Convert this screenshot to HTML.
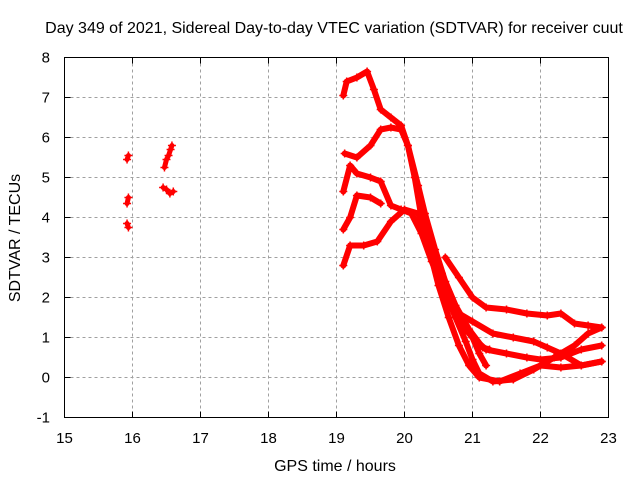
<!DOCTYPE html>
<html><head><meta charset="utf-8"><style>
body{margin:0;background:#fff}
svg{display:block;font-family:"Liberation Sans",sans-serif}
</style></head><body>
<svg id="chart" width="640" height="480">
<rect width="640" height="480" fill="#fff"/>
<text x="334" y="33" font-size="16" text-anchor="middle">Day 349 of 2021, Sidereal Day-to-day VTEC variation (SDTVAR) for receiver cuut</text>
<g id="grid"></g><g id="ticks"></g><g id="series"></g>
<rect x="64.5" y="57.5" width="544" height="360" fill="none" stroke="#000"/>
<text x="335" y="471" font-size="16" text-anchor="middle">GPS time / hours</text>
<text transform="translate(20,238) rotate(-90)" font-size="16" text-anchor="middle">SDTVAR / TECUs</text>
</svg>
<script>
const xTicks=[15,16,17,18,19,20,21,22,23];
const yTicks=[-1,0,1,2,3,4,5,6,7,8];
const clusterA1=[[15.92,5.45],[15.94,5.55]];
const clusterA2=[[15.92,4.35],[15.94,4.5]];
const clusterA3=[[15.92,3.85],[15.94,3.75]];
const clusterB1=[[16.47,5.25],[16.5,5.45],[16.53,5.55],[16.56,5.7],[16.58,5.8]];
const clusterB2=[[16.45,4.75],[16.5,4.7],[16.55,4.6],[16.6,4.65]];
const seriesA=[[19.1,7.05],[19.15,7.4],[19.3,7.5],[19.45,7.65],[19.55,7.2],[19.65,6.7],[19.8,6.5],[19.95,6.3],[20.05,5.8],[20.15,5.0],[20.25,4.0],[20.35,3.4],[20.5,2.6],[20.6,2.1],[20.75,1.5],[20.9,0.9],[21.0,0.45],[21.1,0.1],[21.3,-0.1],[21.6,-0.05],[21.9,0.2],[22.2,0.5],[22.5,0.8],[22.7,1.1],[22.9,1.25]];
const seriesB=[[19.12,5.6],[19.3,5.5],[19.5,5.8],[19.65,6.2],[19.8,6.25],[19.95,6.2],[20.05,5.8],[20.2,4.8],[20.3,4.1],[20.45,3.2],[20.6,2.4],[20.8,1.6],[21.0,1.0],[21.1,0.6],[21.2,0.3]];
const seriesC=[[19.1,4.65],[19.2,5.3],[19.3,5.1],[19.5,5.0],[19.65,4.9],[19.8,4.3],[19.95,4.2],[20.1,4.1],[20.25,3.6],[20.4,2.9],[20.55,2.3],[20.7,1.8],[20.9,1.2],[21.0,1.0],[21.2,0.7],[21.5,0.6],[21.8,0.5],[22.0,0.45],[22.3,0.5],[22.6,0.7],[22.9,0.8]];
const seriesD=[[19.1,3.7],[19.2,4.0],[19.3,4.55],[19.5,4.5],[19.65,4.35]];
const seriesE=[[19.1,2.8],[19.2,3.3],[19.4,3.3],[19.6,3.4],[19.8,3.9],[20.0,4.2],[20.2,4.1],[20.35,3.4],[20.5,2.6],[20.6,2.1],[20.8,1.6],[21.0,1.4],[21.3,1.1],[21.6,1.0],[21.9,0.9],[22.1,0.75],[22.3,0.6],[22.6,0.3],[22.9,0.4]];
const seriesF=[[20.6,3.0],[20.8,2.5],[21.0,2.0],[21.2,1.75],[21.5,1.7],[21.8,1.6],[22.1,1.55],[22.3,1.6],[22.5,1.35],[22.7,1.3],[22.9,1.25]];
const seriesG=[[20.35,3.3],[20.5,2.3],[20.65,1.5],[20.8,0.8],[20.95,0.3],[21.1,0.0],[21.4,-0.1],[21.7,0.1],[22.0,0.3],[22.3,0.25],[22.6,0.3],[22.9,0.4]];
const seriesH=[[20.55,2.6],[20.75,1.8],[20.95,1.2],[21.15,0.75],[21.25,0.7]];

const NS="http://www.w3.org/2000/svg";
const X=h=>64.5+(h-15)*68, Y=v=>417.5-(v+1)*40;
const grid=document.getElementById('grid'),ticks=document.getElementById('ticks'),ser=document.getElementById('series');
function mk(t,a,p){const e=document.createElementNS(NS,t);for(const k in a)e.setAttribute(k,a[k]);p.appendChild(e);return e;}
xTicks.forEach(t=>{const x=X(t);
 if(t>15&&t<23){const g=mk('line',{x1:x,x2:x,y1:57.5,y2:417.5,stroke:'#a0a0a0','stroke-dasharray':'3,3'},grid);
 
 }
 mk('line',{x1:x,x2:x,y1:417.5,y2:411.5,stroke:'#000'},ticks);mk('line',{x1:x,x2:x,y1:57.5,y2:63.5,stroke:'#000'},ticks);
 const l=mk('text',{x:x,y:443,'font-size':15,'text-anchor':'middle'},ticks);l.textContent=t;
 
 });
yTicks.forEach(t=>{const y=Y(t);
 if(t>-1&&t<8){const g=mk('line',{x1:64.5,x2:608.5,y1:y,y2:y,stroke:'#a0a0a0','stroke-dasharray':'3,3'},grid);
 
 }
 mk('line',{x1:64.5,x2:70.5,y1:y,y2:y,stroke:'#000'},ticks);mk('line',{x1:608.5,x2:602.5,y1:y,y2:y,stroke:'#000'},ticks);
 const l=mk('text',{x:50,y:y+5,'font-size':15,'text-anchor':'end'},ticks);l.textContent=t;
 
 });
function drawSeries(pts,name,w){
 const g=mk('g',{},ser);
 
 
 mk('polyline',{points:pts.map(p=>X(p[0])+','+Y(p[1])).join(' '),fill:'none',stroke:'#ff0000','stroke-width':w,'stroke-linejoin':'round','stroke-linecap':'round'},g);
 pts.forEach(p=>{const x=X(p[0]),y=Y(p[1]);
  mk('path',{d:`M${x-4},${y}H${x+4}M${x},${y-4}V${y+4}`,stroke:'#ff0000','stroke-width':1.5},g);});
}
[[clusterA1,'cluster-16h-a1'],[clusterA2,'cluster-16h-a2'],[clusterA3,'cluster-16h-a3'],[clusterB1,'cluster-16h-b1'],[clusterB2,'cluster-16h-b2']].forEach(s=>drawSeries(s[0],s[1],5));
[[seriesA,'series-a'],[seriesB,'series-b'],[seriesC,'series-c'],[seriesD,'series-d'],[seriesE,'series-e'],[seriesF,'series-f'],[seriesG,'series-g'],[seriesH,'series-h']].forEach(s=>drawSeries(s[0],s[1],6));
</script>
</body></html>
